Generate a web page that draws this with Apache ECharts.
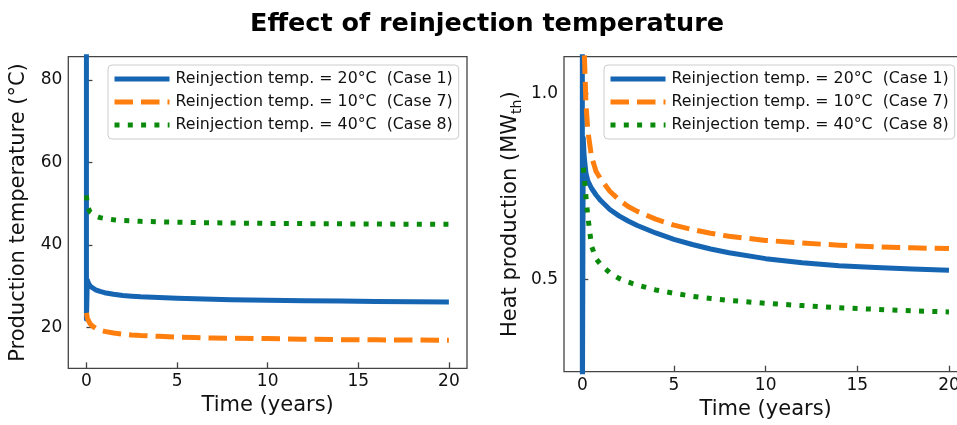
<!DOCTYPE html>
<html>
<head>
<meta charset="utf-8">
<script src="https://cdn.jsdelivr.net/npm/echarts@6/dist/echarts.min.js"></script>
<style>
  html, body { margin: 0; padding: 0; background: #ffffff; }
  #chart { width: 957px; height: 425px; }
</style>
</head>
<body>
<div id="chart"></div>
<script>
// Simulation time (years) shared by every curve. The first two samples sit at
// t = 0 so the start-up transient shows as a vertical jump on the y axis.
const timeYears = [0, 0.001, 0.05, 0.1, 0.2, 0.3, 0.5, 0.75, 1, 1.5, 2, 2.5, 3, 4, 5, 6, 7, 8, 10, 12, 14, 16, 18, 20];

const caseNames = [
  'Reinjection temp. = 20°C  (Case 1)',
  'Reinjection temp. = 10°C  (Case 7)',
  'Reinjection temp. = 40°C  (Case 8)'
];

// Production temperature (°C)
const tempCase1 = [95, 22, 31.5, 30.8, 30.0, 29.6, 29.1, 28.7, 28.4, 28.0, 27.7, 27.55, 27.4, 27.2, 27.05, 26.9, 26.8, 26.7, 26.55, 26.45, 26.35, 26.25, 26.2, 26.15];
const tempCase7 = [null, 23.5, 22.3, 21.7, 20.9, 20.4, 19.8, 19.3, 19.0, 18.6, 18.35, 18.15, 18.0, 17.8, 17.6, 17.5, 17.4, 17.35, 17.25, 17.1, 17.0, 16.95, 16.9, 16.85];
const tempCase8 = [null, 52, 49.5, 48.9, 48.0, 47.6, 47.0, 46.6, 46.4, 46.1, 45.9, 45.8, 45.7, 45.6, 45.5, 45.4, 45.35, 45.3, 45.2, 45.15, 45.1, 45.05, 45.0, 45.0];

// Heat production (MW_th)
const heatCase1 = [1.5, 0.1, 0.88, 0.83, 0.785, 0.765, 0.745, 0.727, 0.712, 0.688, 0.671, 0.657, 0.645, 0.625, 0.608, 0.594, 0.582, 0.572, 0.556, 0.545, 0.537, 0.532, 0.528, 0.525];
const heatCase7 = [null, 1.6, 1.25, 1.12, 0.97, 0.9, 0.83, 0.79, 0.77, 0.737, 0.714, 0.696, 0.683, 0.662, 0.646, 0.634, 0.624, 0.616, 0.605, 0.598, 0.592, 0.588, 0.585, 0.583];
const heatCase8 = [null, null, 0.8, 0.78, 0.72, 0.67, 0.59, 0.556, 0.54, 0.518, 0.503, 0.493, 0.485, 0.472, 0.463, 0.455, 0.449, 0.444, 0.436, 0.43, 0.424, 0.42, 0.416, 0.413];

// Tick positions
const timeTicks = [0, 5, 10, 15, 20];
const tempTicks = [20, 40, 60, 80];
const heatTicks = [0.5, 1.0];

const FONT = 'DejaVu Sans';
const INK = '#111111';
const FRAME = '#444444';

const caseColors = ['#1565b3', '#ff7f0e', '#0a8a0a'];
const caseDashes = ['solid', [18.5, 8], [5, 8.3]];

function pairs(values) {
  return timeYears.map((t, i) => [t, values[i]]);
}

function timeAxis(gridIndex) {
  return {
    type: 'value', gridIndex, min: -1, max: 21,
    axisLine: { show: false },
    splitLine: { show: false },
    axisTick: { inside: true, length: 6, customValues: timeTicks, lineStyle: { color: FRAME, width: 1.3 } },
    axisLabel: { customValues: timeTicks, fontSize: 17, color: INK, margin: 5, fontFamily: FONT },
    name: 'Time (years)', nameLocation: 'middle', nameGap: 27,
    nameTextStyle: { fontSize: 21, color: INK, fontFamily: FONT }
  };
}

function valueAxis(gridIndex, min, max, ticks, name, gap, fmt) {
  return {
    type: 'value', gridIndex, min, max,
    axisLine: { show: false },
    splitLine: { show: false },
    axisTick: { inside: true, length: 6, customValues: ticks, lineStyle: { color: FRAME, width: 1.3 } },
    axisLabel: { customValues: ticks, fontSize: 17, color: INK, margin: 6, fontFamily: FONT, formatter: fmt },
    name, nameLocation: 'middle', nameGap: gap,
    nameTextStyle: {
      fontSize: 21, color: INK, fontFamily: FONT, lineHeight: 26,
      rich: { sub: { fontSize: 14, lineHeight: 14, verticalAlign: 'bottom', color: INK, fontFamily: FONT } }
    }
  };
}

function legendBox(left) {
  return {
    data: caseNames, left, top: 65, orient: 'vertical',
    itemWidth: 55, itemHeight: 14, itemGap: 7,
    padding: [6, 6, 6, 4],
    backgroundColor: 'rgba(255,255,255,0.8)',
    borderColor: '#cccccc', borderWidth: 1, borderRadius: 4,
    textStyle: { fontSize: 15.8, color: INK, fontFamily: FONT, lineHeight: 16, padding: [0, 0, 0, 1] },
    itemStyle: { opacity: 0 },
    lineStyle: { width: 5 },
    selectedMode: false
  };
}

function curve(i, gridIndex, values) {
  return {
    type: 'line', name: caseNames[i],
    xAxisIndex: gridIndex, yAxisIndex: gridIndex,
    data: pairs(values),
    symbol: 'none', showSymbol: false, smooth: false, clip: true,
    color: caseColors[i],
    lineStyle: { width: 5, color: caseColors[i], type: caseDashes[i], cap: 'butt', join: 'round' },
    emphasis: { disabled: true }
  };
}

const chart = echarts.init(document.getElementById('chart'), null, { renderer: 'canvas' });
chart.setOption({
  animation: false,
  backgroundColor: '#ffffff',
  textStyle: { fontFamily: FONT },
  graphic: [{
    type: 'text', x: 487, y: 24,
    style: {
      text: 'Effect of reinjection temperature',
      fontSize: 25.5, fontWeight: 'bold', fontFamily: FONT, fill: '#000000',
      align: 'center', verticalAlign: 'middle'
    }
  }],
  grid: [
    { left: 68.3, top: 56.7, width: 398.7, height: 311.6, show: true, borderColor: FRAME, borderWidth: 1.3,
      backgroundColor: 'transparent', outerBoundsMode: 'none' },
    { left: 564, top: 56.7, width: 403.3, height: 315, show: true, borderColor: FRAME, borderWidth: 1.3,
      backgroundColor: 'transparent', outerBoundsMode: 'none' }
  ],
  xAxis: [timeAxis(0), timeAxis(1)],
  yAxis: [
    valueAxis(0, 10.05, 85.65, tempTicks, 'Production temperature (°C)', 37, v => String(v)),
    valueAxis(1, 0.2524, 1.0983, heatTicks, 'Heat production (MW{sub|th})', 40, v => v.toFixed(1))
  ],
  legend: [legendBox(108), legendBox(604)],
  series: [
    curve(0, 0, tempCase1), curve(1, 0, tempCase7), curve(2, 0, tempCase8),
    curve(0, 1, heatCase1), curve(1, 1, heatCase7), curve(2, 1, heatCase8)
  ]
});
</script>
</body>
</html>
